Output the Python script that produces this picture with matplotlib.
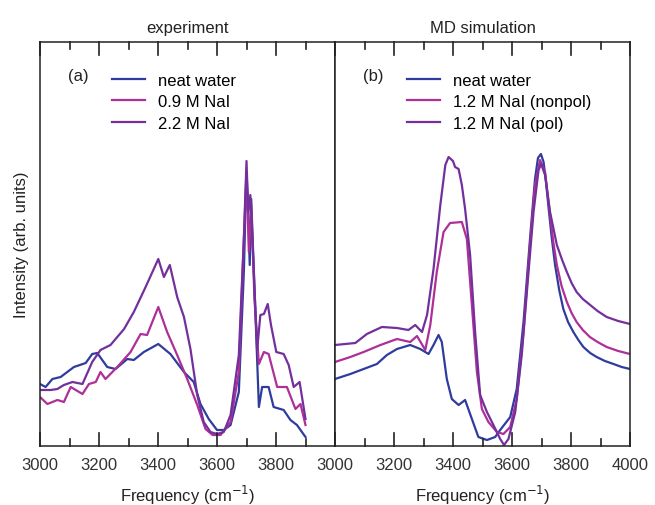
import matplotlib
matplotlib.use("Agg")
import matplotlib.pyplot as plt

plt.rcdefaults()
plt.rcParams['font.family'] = ['Liberation Sans', 'DejaVu Sans']

# experiment (left panel), intensity in arbitrary units
exp_water_f = [3000, 3019, 3042, 3070, 3115, 3155, 3177, 3194, 3228, 3256, 3296, 3318, 3352, 3401,
               3442, 3488, 3521, 3544, 3572, 3600, 3623, 3646, 3674, 3691, 3700, 3704, 3711, 3716,
               3725, 3742, 3753, 3775, 3792, 3826, 3849, 3871, 3900]
exp_water_i = [62, 59, 67, 69, 79, 83, 92, 93, 79, 77, 87, 86, 94, 102,
               92, 74, 64, 42, 27, 16, 16, 21, 54, 174, 274, 247, 181, 247,
               174, 39, 59, 59, 39, 36, 26, 21, 9]

exp_09_f = [3000, 3025, 3059, 3081, 3104, 3144, 3166, 3189, 3205, 3222, 3262, 3307, 3341, 3363,
            3401, 3431, 3465, 3499, 3533, 3561, 3585, 3612, 3646, 3674, 3691, 3700, 3708, 3716,
            3727, 3742, 3759, 3775, 3804, 3837, 3866, 3883, 3900]
exp_09_i = [49, 42, 46, 44, 59, 52, 62, 64, 74, 67, 79, 94, 112, 111,
            139, 114, 91, 67, 41, 17, 11, 11, 24, 74, 207, 274, 194, 241,
            147, 82, 94, 92, 59, 59, 37, 42, 21]

exp_22_f = [3000, 3036, 3059, 3081, 3110, 3144, 3177, 3205, 3239, 3285, 3318, 3358, 3401, 3420,
            3440, 3465, 3488, 3510, 3533, 3555, 3578, 3600, 3623, 3646, 3674, 3691, 3700, 3706,
            3713, 3722, 3736, 3747, 3759, 3772, 3783, 3801, 3826, 3843, 3860, 3880, 3900]
exp_22_i = [56, 56, 57, 61, 64, 62, 84, 96, 101, 117, 134, 159, 187, 169,
            181, 149, 129, 97, 51, 24, 14, 12, 14, 31, 91, 207, 285, 234,
            251, 194, 96, 131, 132, 142, 121, 94, 92, 81, 59, 64, 27]

# MD simulation (right panel)
md_water_f = [3000, 3052, 3097, 3142, 3176, 3210, 3255, 3289, 3317, 3334, 3351, 3362, 3379, 3396,
              3419, 3441, 3458, 3486, 3515, 3543, 3560, 3594, 3616, 3639, 3661, 3678, 3688, 3698,
              3707, 3715, 3723, 3734, 3746, 3760, 3774, 3790, 3808, 3825, 3842, 3865, 3887, 3915,
              3944, 3972, 4000]
md_water_i = [67, 72, 77, 82, 91, 97, 101, 97, 92, 101, 111, 104, 67, 47,
              41, 46, 32, 9, 6, 9, 16, 29, 57, 124, 207, 267, 288, 292,
              284, 265, 241, 210, 181, 156, 137, 124, 114, 106, 99, 93, 89, 85,
              82, 79, 77]

md_nonpol_f = [3000, 3052, 3097, 3154, 3210, 3255, 3278, 3306, 3323, 3345, 3368, 3390, 3430, 3447,
               3464, 3481, 3498, 3520, 3549, 3571, 3594, 3616, 3639, 3661, 3678, 3695, 3712, 3729,
               3740, 3752, 3768, 3786, 3802, 3819, 3840, 3864, 3890, 3921, 3960, 4000]
md_nonpol_i = [84, 89, 94, 101, 107, 104, 110, 96, 121, 174, 214, 223, 224, 207,
               141, 74, 37, 24, 14, 12, 19, 47, 114, 201, 261, 286, 274, 231,
               204, 181, 160, 144, 133, 124, 116, 109, 104, 99, 95, 92]

md_pol_f = [3000, 3069, 3108, 3159, 3210, 3249, 3272, 3295, 3312, 3334, 3357, 3374, 3385, 3400,
            3407, 3419, 3430, 3441, 3458, 3475, 3492, 3515, 3537, 3560, 3573, 3588, 3611, 3633,
            3656, 3673, 3690, 3699, 3712, 3729, 3752, 3770, 3786, 3802, 3819, 3840, 3865, 3890,
            3921, 3960, 4000]
md_pol_i = [101, 103, 112, 119, 118, 116, 121, 114, 131, 177, 241, 281, 289, 285,
            279, 277, 261, 237, 191, 114, 51, 34, 21, 7, 1, 7, 34, 91,
            174, 234, 276, 282, 271, 234, 201, 186, 174, 163, 154, 147, 141, 135,
            129, 125, 122]

major_ticks = [3000, 3200, 3400, 3600, 3800, 4000]
minor_ticks = [3100, 3300, 3500, 3700, 3900]
left_labels = ['3000', '3200', '3400', '3600', '3800', '']
right_labels = ['3000', '3200', '3400', '3600', '3800', '4000']

c_blue = '#2f3c9e'
c_mag = '#ad2f98'
c_pur = '#73309d'
c_axis = '#222222'

fig = plt.figure(figsize=(6.55, 5.06), dpi=100)
ax1 = fig.add_axes([40 / 655, 1 - 447 / 506, 295 / 655, 404 / 506])
ax2 = fig.add_axes([335 / 655, 1 - 447 / 506, 295 / 655, 404 / 506])

ax1.plot(exp_water_f, exp_water_i, color=c_blue, lw=1.6, label='neat water')
ax1.plot(exp_09_f, exp_09_i, color=c_mag, lw=1.6, label='0.9 M NaI')
ax1.plot(exp_22_f, exp_22_i, color=c_pur, lw=1.6, label='2.2 M NaI')

ax2.plot(md_water_f, md_water_i, color=c_blue, lw=1.6, label='neat water')
ax2.plot(md_nonpol_f, md_nonpol_i, color=c_mag, lw=1.6, label='1.2 M NaI (nonpol)')
ax2.plot(md_pol_f, md_pol_i, color=c_pur, lw=1.6, label='1.2 M NaI (pol)')

for ax, title, tag, labels in [(ax1, 'experiment', '(a)', left_labels),
                               (ax2, 'MD simulation', '(b)', right_labels)]:
    ax.set_xlim(3000, 4000)
    ax.set_ylim(0, 404)
    ax.set_xticks(major_ticks)
    ax.set_xticklabels(labels)
    ax.set_yticks([])
    ax.tick_params(axis='x', length=0, labelsize=12, labelcolor='#333333', pad=8)
    for s in ax.spines.values():
        s.set_color(c_axis)
        s.set_linewidth(1.1)
    ax.set_title(title, fontsize=12, color='#222222', pad=7)
    ax.set_xlabel('Frequency (cm$^{-1}$)', fontsize=12, color='#222222', labelpad=8)
    ax.text(0.095, 0.917, tag, transform=ax.transAxes, fontsize=12, color='#222222', va='center')
    ax.legend(loc='upper left', bbox_to_anchor=(0.22, 0.94), frameon=False, fontsize=12,
              handlelength=2.0, handletextpad=0.8, labelspacing=0.38, borderaxespad=0)
    # inward ticks on bottom and top, drawn as short segments
    tr = ax.get_xaxis_transform()
    for t in major_ticks:
        ax.plot([t, t], [0, 0.032], transform=tr, color=c_axis, lw=1.2, clip_on=False)
        ax.plot([t, t], [0.968, 1], transform=tr, color=c_axis, lw=1.2, clip_on=False)
    for t in minor_ticks:
        ax.plot([t, t], [0, 0.017], transform=tr, color=c_axis, lw=1.2, clip_on=False)
        ax.plot([t, t], [0.983, 1], transform=tr, color=c_axis, lw=1.2, clip_on=False)

ax1.set_ylabel('Intensity (arb. units)', fontsize=12, color='#222222', labelpad=8)

fig.savefig('out.png', dpi=100)
